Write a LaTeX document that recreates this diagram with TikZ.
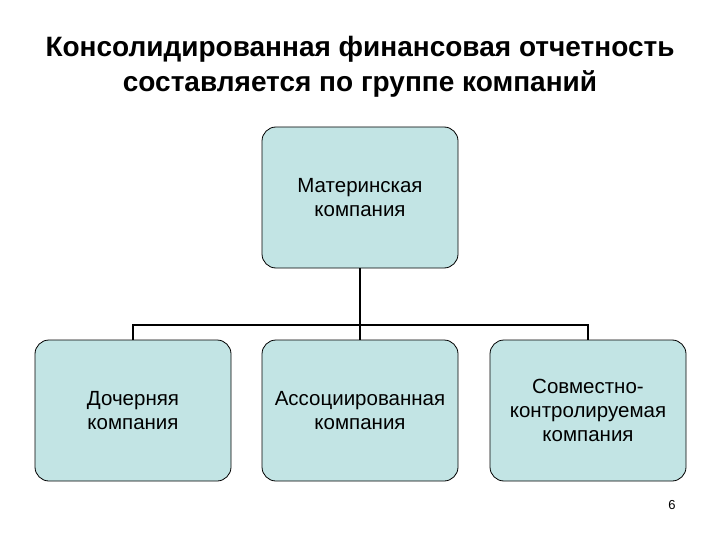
\documentclass[tikz,border=0pt]{standalone}
\usepackage{fontspec}
\setmainfont{Liberation Sans}
\begin{document}
\begin{tikzpicture}[x=1pt,y=-1pt,
  box/.style={draw=black,line width=0.8pt,fill=boxfill,rounded corners=14pt,minimum width=196pt,minimum height=141pt,align=center,font=\fontsize{20.5}{24}\selectfont,inner sep=2pt},
  conn/.style={line width=1.6pt}]
\definecolor{boxfill}{RGB}{194,228,228}
\useasboundingbox (0,0) rectangle (720,540);
\node[font=\bfseries\fontsize{28}{35}\selectfont,align=center] (title) at (360,67) {Консолидированная финансовая отчетность\\составляется по группе компаний};
\node[box] (top) at (360,197.5) {Материнская\\компания};
\node[box] (l) at (133,410.5) {Дочерняя\\компания};
\node[box] (m) at (360,410.5) {Ассоциированная\\компания};
\node[box] (r) at (588,410.5) {Совместно-\\контролируемая\\компания};
\coordinate (j) at (360,325);
\draw[conn] (top.south) -- (j);
\draw[conn] (j) -| (l.north);
\draw[conn] (j) -| (r.north);
\draw[conn] (j) -- (m.north);
\node[font=\fontsize{13}{15}\selectfont] (pg) at (672,505) {6};
\end{tikzpicture}
\end{document}
